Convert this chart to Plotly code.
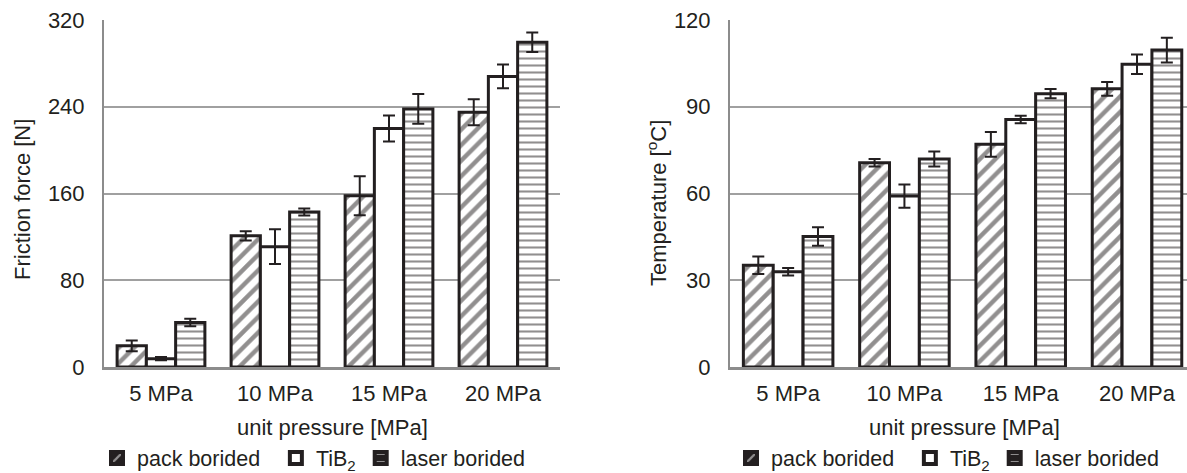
import plotly.graph_objects as go

W, H = 1187, 473

categories = ["5 MPa", "10 MPa", "15 MPa", "20 MPa"]
series_names = ["pack borided", "TiB<sub>2</sub>", "laser borided"]

# Left chart: friction force [N]
force_pack = [19.5, 121, 158, 235]
force_pack_err = [5, 4.3, 18, 12]
force_tib2 = [7.7, 111, 220, 268]
force_tib2_err = [1.5, 16, 12, 11]
force_laser = [41, 143, 238, 299.5]
force_laser_err = [3.5, 3.2, 13.7, 9]

# Right chart: temperature [oC]
temp_pack = [35.2, 70.6, 77, 96.2]
temp_pack_err = [3, 1.3, 4.3, 2.4]
temp_tib2 = [32.9, 59.1, 85.6, 104.7]
temp_tib2_err = [1.3, 4, 1.3, 3.4]
temp_laser = [45.1, 71.9, 94.5, 109.6]
temp_laser_err = [3.2, 2.6, 1.6, 4.3]

force_ticks = [0, 80, 160, 240, 320]
temp_ticks = [0, 30, 60, 90, 120]

INK = "#231f20"
GRID = "#a0a0a0"
AXIS = "#8c8c8c"
FONT = "Liberation Sans, Arial, sans-serif"
FS = 22
LFS = 21.5

patterns = [
    dict(shape="/", size=11, solidity=0.4, fgcolor=INK, bgcolor="white", fillmode="overlay"),
    dict(shape="", fgcolor=INK, bgcolor="white"),
    dict(shape="-", size=7, solidity=0.3, fgcolor=INK, bgcolor="white", fillmode="overlay"),
]

# legend key styles (small dark squares)
legend_patterns = [
    dict(shape="/", size=9, solidity=0.3, fgcolor="white", bgcolor=INK, fillmode="overlay"),
    dict(shape=""),
    dict(shape="-", size=12, solidity=0.25, fgcolor="white", bgcolor=INK, fillmode="overlay"),
]
legend_fill = [INK, "white", INK]
legend_suffix = ["\u2002", "", ""]

fig = go.Figure()

def add_series(vals_list, errs_list, xa, ya):
    for vals, errs, pat in zip(vals_list, errs_list, patterns):
        fig.add_trace(go.Bar(
            x=categories, y=vals, showlegend=False,
            xaxis=xa, yaxis=ya,
            marker=dict(color="white", line=dict(color=INK, width=3), pattern=pat),
            error_y=dict(type="data", array=errs, color=INK, thickness=2, width=6),
        ))

add_series([force_pack, force_tib2, force_laser],
           [force_pack_err, force_tib2_err, force_laser_err], "x", "y")
add_series([temp_pack, temp_tib2, temp_laser],
           [temp_pack_err, temp_tib2_err, temp_laser_err], "x2", "y2")

# legend-only entries on a hidden axis so they do not shift the bar groups
for legend in ["legend", "legend2"]:
    for name, pat, fill, suf in zip(series_names, legend_patterns, legend_fill, legend_suffix):
        fig.add_trace(go.Bar(
            x=[categories[0]], y=[None], name=name + suf, legend=legend,
            xaxis="x3", yaxis="y3", hoverinfo="skip",
            marker=dict(color=fill, line=dict(color=INK, width=4), pattern=pat),
        ))

ydom = [(H - 367) / H, (H - 20) / H]

xcommon = dict(type="category", showline=True, linecolor=AXIS, linewidth=3,
               ticks="", showgrid=False, zeroline=False, automargin=False,
               tickfont=dict(family=FONT, size=FS, color=INK), ticklabelstandoff=5)
ycommon = dict(showgrid=True, gridcolor=GRID, gridwidth=2, showline=True,
               linecolor=AXIS, linewidth=2, zeroline=False, ticks="", automargin=False,
               tickfont=dict(family=FONT, size=FS, color=INK), ticklabelstandoff=13)

legcommon = dict(orientation="h", xanchor="left", y=(H - 458) / H, yanchor="middle",
                 font=dict(family=FONT, size=LFS, color=INK), bgcolor="rgba(0,0,0,0)")

fig.update_layout(
    width=W, height=H, margin=dict(l=0, r=0, t=0, b=0, autoexpand=False),
    paper_bgcolor="white", plot_bgcolor="white",
    barmode="group", bargap=0.23, bargroupgap=0,
    font=dict(family=FONT, size=FS, color=INK),
    xaxis=dict(domain=[104 / W, 560 / W], anchor="y", range=[-0.5, 3.5], **xcommon),
    yaxis=dict(domain=ydom, anchor="x", range=[0, 320], tickvals=force_ticks, **ycommon),
    xaxis2=dict(domain=[730 / W, 1.0], anchor="y2", range=[-0.5, 3.43], **xcommon),
    yaxis2=dict(domain=ydom, anchor="x2", range=[0, 120], tickvals=temp_ticks, **ycommon),
    xaxis3=dict(domain=[0, 0.01], anchor="y3", visible=False, automargin=False),
    yaxis3=dict(domain=[0, 0.01], anchor="x3", visible=False, automargin=False),
    legend=dict(x=97 / W, **legcommon),
    legend2=dict(x=731 / W, **legcommon),
    annotations=[
        dict(text="Friction force [N]", x=22 / W, y=(H - 200) / H, xref="paper", yref="paper",
             textangle=-90, showarrow=False, xanchor="center", yanchor="middle",
             font=dict(family=FONT, size=FS, color=INK)),
        dict(text="Temperature [<sup>o</sup>C]", x=657 / W, y=(H - 203) / H, xref="paper", yref="paper",
             textangle=-90, showarrow=False, xanchor="center", yanchor="middle",
             font=dict(family=FONT, size=FS, color=INK)),
        dict(text="unit pressure [MPa]", x=332 / W, y=(H - 427) / H, xref="paper", yref="paper",
             showarrow=False, xanchor="center", yanchor="middle",
             font=dict(family=FONT, size=FS, color=INK)),
        dict(text="unit pressure [MPa]", x=964 / W, y=(H - 427) / H, xref="paper", yref="paper",
             showarrow=False, xanchor="center", yanchor="middle",
             font=dict(family=FONT, size=FS, color=INK)),
    ],
)

fig.write_html("out.html")
